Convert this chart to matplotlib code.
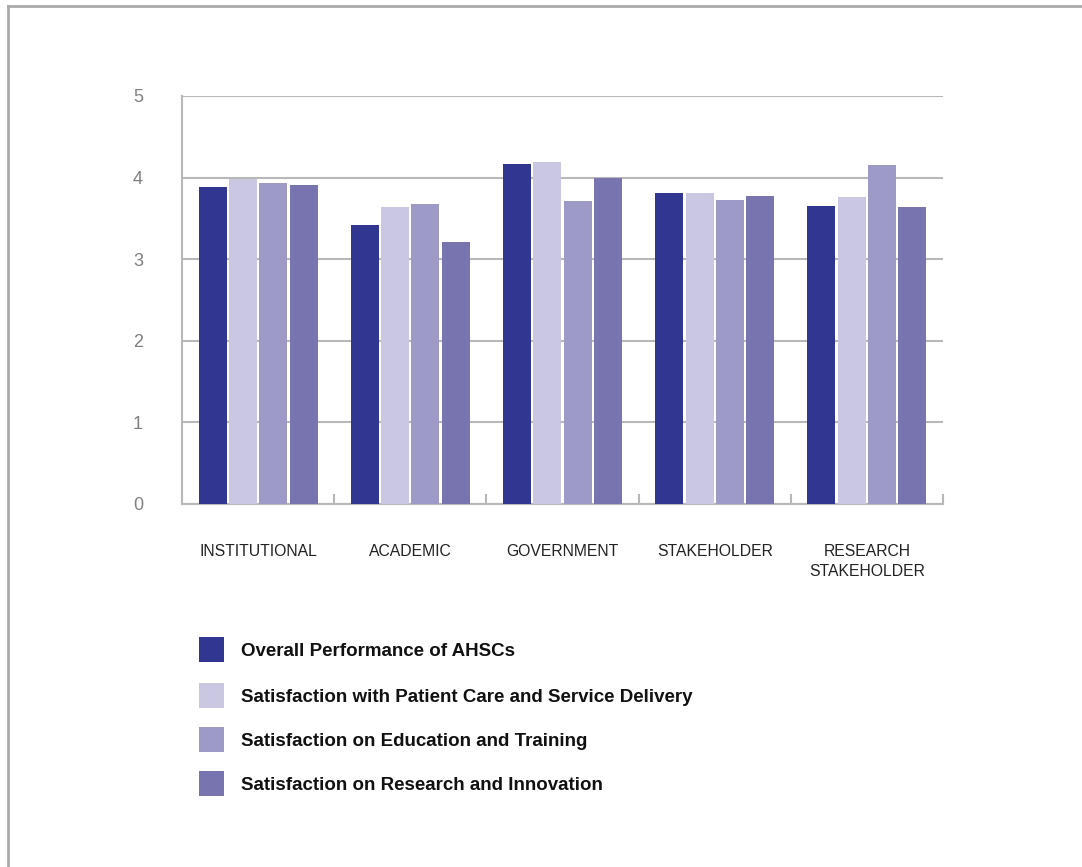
import matplotlib
matplotlib.use("Agg")
import matplotlib.pyplot as plt
import numpy as np
from matplotlib.patches import Rectangle
from matplotlib.lines import Line2D

categories = ["INSTITUTIONAL", "ACADEMIC", "GOVERNMENT", "STAKEHOLDER", "RESEARCH\nSTAKEHOLDER"]
series_names = [
    "Overall Performance of AHSCs",
    "Satisfaction with Patient Care and Service Delivery",
    "Satisfaction on Education and Training",
    "Satisfaction on Research and Innovation",
]
overall = [3.88, 3.42, 4.17, 3.81, 3.65]
patient_care = [3.98, 3.64, 4.19, 3.81, 3.76]
education = [3.93, 3.68, 3.71, 3.73, 4.15]
research = [3.91, 3.21, 4.00, 3.77, 3.64]
yticks = [0, 1, 2, 3, 4, 5]

colors = ["#313691", "#C9C7E2", "#9D9AC8", "#7874B0"]
series = [overall, patient_care, education, research]

plt.rcParams['font.family'] = ['Liberation Sans', 'DejaVu Sans']

W, H = 1082, 867
fig = plt.figure(figsize=(W / 100, H / 100), dpi=100)
ax = fig.add_axes([182 / W, 1 - 504 / H, (943 - 182) / W, (504 - 96) / H])

x = np.arange(len(categories))
step = 0.199
width = 0.184
for i, (vals, c) in enumerate(zip(series, colors)):
    ax.bar(x + (i - 1.5) * step, vals, width=width, color=c, zorder=3, label=series_names[i])

ax.set_xlim(-0.5, len(categories) - 0.5)
ax.set_ylim(0, 5)
ax.set_yticks(yticks)
ax.set_yticklabels([str(t) for t in yticks], fontsize=13, color="#808080")
ax.tick_params(axis="y", length=0, pad=28)
ax.yaxis.grid(True, color="#B8B8B8", linewidth=1.5, zorder=0)

ax.set_xticks(x)
ax.set_xticklabels(categories, fontsize=11.3, color="#222222", linespacing=1.46)
ax.tick_params(axis="x", length=0, pad=28.5)
for lab in ax.get_xticklabels():
    lab.set_verticalalignment("top")
    lab.set_multialignment("center")

# boundary ticks pointing inward on bottom axis
for b in np.arange(0.5, len(categories) + 0.5, 1.0):
    ax.plot([b, b], [0, 0.11], color="#B8B8B8", linewidth=1.5, zorder=2, clip_on=False)

for s in ["top", "right"]:
    ax.spines[s].set_visible(False)
for s in ["left", "bottom"]:
    ax.spines[s].set_color("#B8B8B8")
    ax.spines[s].set_linewidth(1.5)

# legend drawn manually in figure pixels
row_centers = [649.5, 695, 739.5, 783.5]
sq = 25
for name, c, yc in zip(series_names, colors, row_centers):
    fig.add_artist(Rectangle((199 / W, 1 - (yc + sq / 2) / H), sq / W, sq / H,
                             facecolor=c, edgecolor="none", transform=fig.transFigure))
    fig.text(241 / W, 1 - (yc + 6.8) / H, name, fontsize=13.5, fontweight="bold",
             color="#111111", va="baseline", ha="left")

# figure border (top and left visible)
fig.add_artist(Line2D([8 / W, 1.0], [1 - 6 / H, 1 - 6 / H], color="#AAAAAA", linewidth=2, transform=fig.transFigure))
fig.add_artist(Line2D([8 / W, 8 / W], [0, 1 - 6 / H], color="#AAAAAA", linewidth=2, transform=fig.transFigure))

fig.savefig("out.png", dpi=100, facecolor="white")
